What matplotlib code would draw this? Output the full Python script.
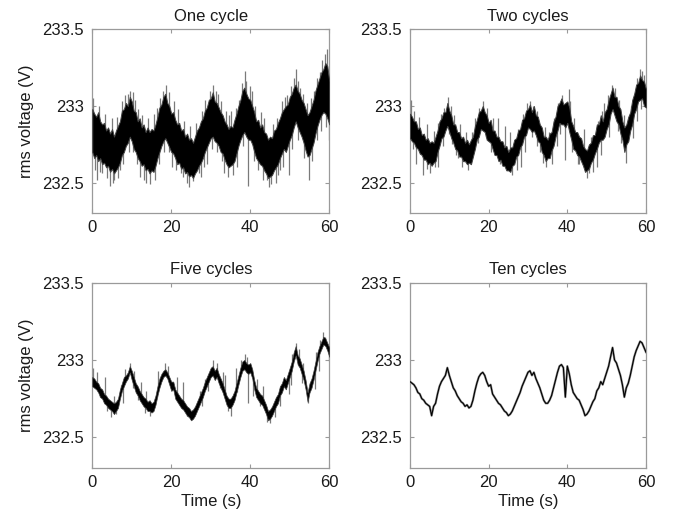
import numpy as np
import matplotlib
matplotlib.use("Agg")
import matplotlib.pyplot as plt

plt.rcParams['font.family'] = ['Liberation Sans', 'DejaVu Sans']

# ---------------- data ----------------
titles = ["One cycle", "Two cycles", "Five cycles", "Ten cycles"]
x_ticks = [0, 20, 40, 60]
y_ticks = [232.5, 233.0, 233.5]
y_tick_labels = ["232.5", "233", "233.5"]
y_label = "rms voltage (V)"
x_label = "Time (s)"

time_s = np.arange(0, 60.01, 0.5)

one_hi = [232.98, 232.95, 232.93, 232.96, 232.90, 232.88, 232.89, 232.84, 232.86, 232.82,
          232.85, 232.80, 232.84, 232.87, 232.90, 232.97, 232.98, 233.02, 233.00, 233.06,
          233.03, 232.97, 232.96, 232.90, 232.92, 232.86, 232.88, 232.83, 232.86, 232.83,
          232.85, 232.84, 232.88, 232.93, 232.99, 233.01, 233.06, 233.08, 233.02, 233.00,
          232.95, 232.96, 232.91, 232.88, 232.89, 232.84, 232.85, 232.80, 232.82, 232.78,
          232.79, 232.76, 232.80, 232.84, 232.86, 232.90, 232.92, 232.97, 232.99, 233.04,
          233.05, 233.09, 233.03, 233.02, 232.99, 232.96, 232.94, 232.90, 232.88, 232.85,
          232.87, 232.86, 232.91, 232.95, 233.00, 233.04, 233.10, 233.12, 233.08, 233.05,
          233.04, 233.00, 232.96, 232.90, 232.91, 232.86, 232.88, 232.83, 232.82, 232.78,
          232.80, 232.79, 232.84, 232.85, 232.89, 232.92, 232.96, 232.98, 233.00, 233.01,
          233.06, 233.08, 233.12, 233.14, 233.10, 233.08, 233.04, 233.02, 232.98, 232.94,
          232.96, 233.00, 233.04, 233.10, 233.14, 233.18, 233.22, 233.24, 233.28, 233.26,
          233.16]
one_lo = [232.70, 232.66, 232.68, 232.64, 232.66, 232.62, 232.63, 232.60, 232.61, 232.57,
          232.59, 232.56, 232.58, 232.60, 232.63, 232.68, 232.70, 232.74, 232.76, 232.80,
          232.77, 232.72, 232.70, 232.66, 232.64, 232.61, 232.62, 232.58, 232.59, 232.56,
          232.58, 232.57, 232.61, 232.66, 232.70, 232.74, 232.77, 232.79, 232.76, 232.73,
          232.70, 232.69, 232.66, 232.62, 232.63, 232.59, 232.60, 232.56, 232.57, 232.54,
          232.55, 232.53, 232.56, 232.58, 232.61, 232.63, 232.66, 232.70, 232.73, 232.76,
          232.79, 232.80, 232.77, 232.76, 232.74, 232.70, 232.69, 232.65, 232.62, 232.60,
          232.61, 232.62, 232.64, 232.69, 232.74, 232.78, 232.81, 232.83, 232.80, 232.78,
          232.78, 232.75, 232.70, 232.66, 232.64, 232.62, 232.61, 232.58, 232.56, 232.53,
          232.54, 232.55, 232.58, 232.60, 232.62, 232.66, 232.69, 232.72, 232.70, 232.74,
          232.78, 232.81, 232.86, 232.90, 232.86, 232.83, 232.80, 232.76, 232.71, 232.67,
          232.68, 232.72, 232.76, 232.82, 232.87, 232.91, 232.94, 232.96, 232.95, 232.92,
          232.88]
one_spike_t = [0.3, 1.2, 2.5, 4.4, 5.6, 7.0, 8.4, 9.6, 10.8, 12.2, 13.1, 15.5, 17.8, 18.6,
               20.2, 22.5, 24.0, 25.6, 26.9, 29.0, 30.6, 31.8, 33.3, 35.0, 37.2, 38.6, 39.4,
               40.5, 42.0, 44.2, 45.3, 47.0, 48.8, 49.8, 51.5, 52.6, 54.8, 56.2, 57.6, 59.5,
               59.9,
               1.7, 3.2, 4.9, 6.3, 7.6, 9.0, 10.2, 11.6, 12.7, 14.2, 16.3, 17.2, 19.3, 20.8,
               21.7, 23.3, 24.7, 26.3, 27.7, 28.6, 29.7, 31.2, 32.6, 33.8, 34.7, 36.3, 37.8,
               39.0, 40.0, 41.3, 42.7, 43.6, 45.8, 46.8, 48.1, 49.3, 50.3, 51.0, 52.2, 53.4,
               54.3, 55.3, 56.8, 58.2, 58.9,
               0.8, 2.0, 3.7, 5.2, 6.6, 7.7, 9.2, 10.3, 11.2, 13.7, 14.5, 15.8, 16.8, 18.2,
               19.5, 21.3, 23.0, 24.6, 27.6, 28.3, 30.2, 31.5, 32.8, 34.3, 35.6, 36.7, 38.2,
               40.9, 43.3, 44.7, 46.4, 47.6, 48.4, 50.6, 52.0, 53.7, 55.6, 57.0, 58.0, 59.2]
one_spike_v = [233.05, 232.52, 232.56, 232.48, 232.52, 232.58, 233.07, 233.10, 233.04, 232.54,
               232.52, 232.95, 233.10, 233.14, 232.60, 232.56, 232.50, 232.51, 232.56, 232.62,
               233.14, 233.08, 232.56, 232.97, 233.04, 233.23, 232.48, 233.10, 232.58, 232.52,
               232.49, 232.55, 233.06, 232.55, 233.24, 233.12, 232.52, 233.10, 233.22, 233.37,
               232.78,
               233.00, 232.95, 232.92, 232.93, 233.03, 233.08, 233.09, 232.98, 232.94, 232.92,
               232.99, 233.05, 233.09, 233.03, 232.98, 232.90, 232.87, 232.89, 232.97, 233.04,
               233.10, 233.10, 233.03, 232.97, 232.94, 232.99, 233.15, 233.16, 233.13, 233.00,
               232.96, 232.92, 232.88, 232.92, 233.03, 233.07, 233.13, 233.18, 233.16, 233.08,
               233.02, 233.05, 233.18, 233.30, 233.34,
               232.58, 232.57, 232.53, 232.50, 232.53, 232.62, 232.70, 232.70, 232.62, 232.50,
               232.49, 232.52, 232.62, 232.70, 232.70, 232.58, 232.54, 232.47, 232.54, 232.60,
               232.72, 232.70, 232.64, 232.54, 232.55, 232.60, 232.74, 232.64, 232.52, 232.47,
               232.50, 232.58, 232.60, 232.72, 232.78, 232.66, 232.64, 232.78, 232.84, 232.86]

two_hi = [232.95, 232.93, 232.90, 232.90, 232.85, 232.86, 232.81, 232.82, 232.78, 232.79,
          232.76, 232.77, 232.76, 232.80, 232.84, 232.90, 232.92, 232.96, 232.96, 233.02,
          232.97, 232.94, 232.88, 232.88, 232.83, 232.83, 232.79, 232.80, 232.76, 232.78,
          232.75, 232.78, 232.80, 232.87, 232.91, 232.96, 232.97, 233.00, 232.96, 232.94,
          232.89, 232.91, 232.84, 232.84, 232.80, 232.80, 232.77, 232.77, 232.73, 232.74,
          232.70, 232.73, 232.73, 232.78, 232.79, 232.84, 232.85, 232.91, 232.92, 232.97,
          232.98, 233.01, 232.96, 233.00, 232.94, 232.93, 232.88, 232.86, 232.80, 232.80,
          232.78, 232.82, 232.83, 232.90, 232.93, 233.00, 233.02, 233.05, 233.01, 233.02,
          233.03, 232.99, 232.90, 232.87, 232.83, 232.83, 232.80, 232.79, 232.74, 232.72,
          232.71, 232.75, 232.76, 232.81, 232.81, 232.88, 232.88, 232.94, 232.90, 232.96,
          232.98, 233.04, 233.08, 233.12, 233.06, 233.06, 233.00, 232.98, 232.90, 232.86,
          232.88, 232.93, 232.96, 233.04, 233.08, 233.14, 233.15, 233.20, 233.17, 233.16,
          233.11]
two_lo = [232.79, 232.77, 232.76, 232.73, 232.72, 232.69, 232.68, 232.65, 232.65, 232.62,
          232.63, 232.61, 232.63, 232.64, 232.70, 232.74, 232.79, 232.80, 232.84, 232.87,
          232.83, 232.79, 232.76, 232.72, 232.71, 232.67, 232.67, 232.64, 232.64, 232.62,
          232.63, 232.62, 232.67, 232.72, 232.78, 232.80, 232.85, 232.84, 232.83, 232.78,
          232.77, 232.76, 232.72, 232.68, 232.68, 232.64, 232.65, 232.61, 232.61, 232.58,
          232.58, 232.57, 232.61, 232.62, 232.67, 232.68, 232.73, 232.75, 232.80, 232.81,
          232.86, 232.85, 232.83, 232.84, 232.81, 232.77, 232.76, 232.70, 232.68, 232.64,
          232.66, 232.66, 232.71, 232.74, 232.80, 232.84, 232.89, 232.88, 232.88, 232.86,
          232.89, 232.83, 232.78, 232.72, 232.71, 232.68, 232.67, 232.64, 232.61, 232.57,
          232.58, 232.59, 232.63, 232.65, 232.69, 232.72, 232.76, 232.78, 232.78, 232.80,
          232.85, 232.88, 232.95, 232.98, 232.94, 232.90, 232.88, 232.82, 232.78, 232.70,
          232.75, 232.77, 232.84, 232.88, 232.95, 232.98, 233.03, 233.04, 233.05, 233.00,
          232.99]
two_spike_t = [0.2, 1.5, 3.4, 5.0, 6.3, 8.0, 9.6, 11.8, 13.2, 14.8, 18.6, 20.5, 22.8, 26.0,
               27.2, 30.6, 33.0, 36.0, 38.6, 39.3, 40.3, 43.0, 45.5, 46.5, 49.2, 52.0, 55.0,
               57.2, 59.0, 60.0,
               1.0, 2.3, 4.3, 6.0, 7.2, 8.7, 10.3, 11.3, 12.6, 14.2, 15.7, 16.6, 17.6, 19.7,
               21.2, 22.3, 24.2, 25.3, 27.5, 28.7, 29.8, 31.3, 32.3, 34.3, 35.3, 36.7, 37.6,
               40.8, 41.8, 44.2, 46.1, 47.7, 48.7, 50.3, 51.3, 53.2, 54.3, 56.2, 57.8, 58.6,
               59.5,
               0.7, 2.6, 4.2, 7.1, 8.4, 9.8, 10.8, 12.2, 16.1, 17.3, 19.4, 21.6, 23.5, 24.6,
               25.3, 28.2, 29.3, 31.0, 32.2, 33.8, 34.7, 37.3, 38.2, 41.3, 42.7, 44.2, 45.0,
               47.6, 48.5, 50.7, 52.8, 53.6, 56.6, 57.7, 58.8]
two_spike_v = [233.04, 232.62, 232.55, 232.56, 232.60, 232.95, 233.06, 232.68, 232.60, 232.58,
               233.03, 232.70, 232.62, 232.55, 232.58, 233.03, 232.70, 232.62, 233.07, 232.65,
               233.11, 232.62, 232.56, 232.57, 233.02, 233.12, 232.63, 233.08, 233.23, 233.00,
               232.97, 232.93, 232.88, 232.84, 232.89, 232.99, 233.00, 232.94, 232.88, 232.83,
               232.83, 232.92, 232.99, 232.99, 232.92, 232.92, 232.87, 232.83, 232.85, 232.95,
               233.02, 233.00, 232.97, 232.86, 232.83, 232.92, 233.02, 233.03, 232.92, 232.85,
               232.80, 232.90, 232.97, 233.07, 233.14, 233.04, 232.94, 233.00, 233.18, 233.24,
               233.20,
               232.72, 232.69, 232.59, 232.60, 232.74, 232.82, 232.75, 232.66, 232.73, 232.76,
               232.80, 232.70, 232.64, 232.62, 232.60, 232.60, 232.70, 232.80, 232.74, 232.63,
               232.60, 232.74, 232.82, 232.70, 232.62, 232.60, 232.53, 232.60, 232.68, 232.80,
               232.84, 232.76, 232.79, 232.90, 232.98]

five_hi = [232.89, 232.88, 232.86, 232.85, 232.82, 232.81, 232.78, 232.77, 232.75, 232.74,
           232.73, 232.72, 232.73, 232.75, 232.81, 232.85, 232.89, 232.90, 232.92, 232.96,
           232.93, 232.89, 232.85, 232.83, 232.80, 232.78, 232.76, 232.75, 232.73, 232.74,
           232.72, 232.73, 232.77, 232.83, 232.88, 232.91, 232.93, 232.94, 232.92, 232.89,
           232.86, 232.86, 232.81, 232.79, 232.77, 232.75, 232.74, 232.72, 232.70, 232.69,
           232.67, 232.68, 232.70, 232.73, 232.76, 232.79, 232.82, 232.86, 232.89, 232.92,
           232.95, 232.96, 232.93, 232.95, 232.91, 232.88, 232.85, 232.81, 232.77, 232.75,
           232.75, 232.77, 232.80, 232.85, 232.90, 232.95, 232.99, 233.00, 232.98, 232.97,
           232.98, 232.94, 232.87, 232.82, 232.80, 232.78, 232.77, 232.74, 232.71, 232.67,
           232.68, 232.70, 232.73, 232.76, 232.78, 232.83, 232.85, 232.89, 232.87, 232.91,
           232.95, 232.99, 233.05, 233.09, 233.03, 233.01, 232.97, 232.93, 232.87, 232.79,
           232.85, 232.88, 232.93, 232.99, 233.05, 233.09, 233.12, 233.15, 233.14, 233.11,
           233.08]
five_lo = [232.83, 232.82, 232.81, 232.79, 232.76, 232.75, 232.72, 232.71, 232.69, 232.68,
           232.67, 232.65, 232.67, 232.69, 232.75, 232.80, 232.83, 232.86, 232.88, 232.92,
           232.87, 232.83, 232.79, 232.77, 232.74, 232.72, 232.70, 232.69, 232.67, 232.67,
           232.66, 232.67, 232.71, 232.77, 232.82, 232.86, 232.89, 232.90, 232.88, 232.84,
           232.80, 232.81, 232.75, 232.73, 232.71, 232.69, 232.68, 232.66, 232.64, 232.63,
           232.61, 232.62, 232.64, 232.67, 232.70, 232.73, 232.76, 232.80, 232.83, 232.86,
           232.89, 232.90, 232.87, 232.89, 232.85, 232.82, 232.79, 232.75, 232.71, 232.69,
           232.69, 232.71, 232.74, 232.79, 232.84, 232.89, 232.93, 232.94, 232.92, 232.91,
           232.92, 232.88, 232.81, 232.76, 232.74, 232.72, 232.71, 232.68, 232.65, 232.61,
           232.62, 232.64, 232.67, 232.70, 232.72, 232.77, 232.79, 232.83, 232.81, 232.85,
           232.89, 232.93, 232.99, 233.03, 232.97, 232.95, 232.91, 232.87, 232.81, 232.73,
           232.79, 232.82, 232.87, 232.93, 232.99, 233.04, 233.07, 233.10, 233.09, 233.06,
           233.02]
five_spike_t = [0.3, 4.8, 6.0, 9.6, 14.6, 19.2, 25.5, 30.5, 33.5, 35.2, 39.2, 39.5, 45.0,
                46.2, 49.8, 51.5, 54.6, 59.0,
                1.3, 3.1, 5.5, 7.3, 8.4, 10.6, 12.3, 13.6, 16.7, 18.4, 21.4, 23.0, 27.3,
                28.6, 31.6, 33.0, 36.4, 37.7, 38.6, 41.6, 43.3, 47.4, 48.6, 50.6, 52.3, 53.4,
                56.6, 57.6, 58.4,
                1.9, 3.7, 7.7, 10.4, 11.6, 13.3, 16.3, 20.6, 22.4, 24.0, 27.7, 29.4, 32.4,
                34.3, 36.6, 40.8, 42.4, 44.3, 47.6, 50.2, 53.0, 56.3, 57.5, 60.0]
five_spike_v = [232.95, 232.63, 232.65, 232.98, 232.64, 232.96, 232.63, 233.00, 232.90, 232.64,
                233.02, 232.72, 232.59, 232.63, 232.78, 233.11, 232.72, 233.15,
                232.92, 232.89, 232.77, 232.84, 232.94, 232.93, 232.86, 232.80, 232.93, 232.98,
                232.89, 232.86, 232.80, 232.88, 232.98, 232.92, 232.95, 233.00, 233.04, 232.88,
                232.83, 232.80, 232.86, 233.04, 233.07, 232.98, 233.05, 233.13, 233.18,
                232.76, 232.67, 232.72, 232.82, 232.74, 232.66, 232.76, 232.80, 232.74, 232.64,
                232.70, 232.80, 232.82, 232.67, 232.79, 232.77, 232.70, 232.60, 232.70, 232.84,
                232.85, 232.81, 232.93, 232.99]

ten_line = [232.86, 232.85, 232.84, 232.82, 232.79, 232.78, 232.75, 232.74, 232.72, 232.71,
            232.70, 232.64, 232.70, 232.72, 232.78, 232.83, 232.86, 232.88, 232.90, 232.95,
            232.90, 232.86, 232.82, 232.80, 232.77, 232.75, 232.73, 232.72, 232.70, 232.71,
            232.69, 232.70, 232.74, 232.80, 232.85, 232.89, 232.91, 232.92, 232.90, 232.86,
            232.83, 232.84, 232.78, 232.76, 232.74, 232.72, 232.71, 232.69, 232.67, 232.66,
            232.64, 232.65, 232.67, 232.70, 232.73, 232.76, 232.79, 232.83, 232.86, 232.89,
            232.92, 232.93, 232.90, 232.92, 232.88, 232.85, 232.82, 232.78, 232.74, 232.72,
            232.72, 232.74, 232.77, 232.82, 232.87, 232.92, 232.96, 232.97, 232.95, 232.76,
            232.96, 232.91, 232.84, 232.79, 232.77, 232.75, 232.74, 232.71, 232.68, 232.64,
            232.65, 232.67, 232.70, 232.73, 232.75, 232.80, 232.82, 232.86, 232.84, 232.88,
            232.92, 232.96, 233.02, 233.08, 233.00, 232.98, 232.94, 232.90, 232.84, 232.76,
            232.82, 232.85, 232.90, 232.96, 233.02, 233.06, 233.09, 233.12, 233.11, 233.08,
            233.05]

# ---------------- figure ----------------
fig = plt.figure(figsize=(6.76, 5.18), dpi=100)
positions = [
    [0.1365, 0.5882, 0.3506, 0.3552],
    [0.6065, 0.5882, 0.3491, 0.3552],
    [0.1365, 0.0959, 0.3506, 0.3587],
    [0.6065, 0.0959, 0.3491, 0.3587],
]
axes = [fig.add_axes(p) for p in positions]

frame_col = "#9a9a9a"
text_col = "#1a1a1a"


def band(ax, hi, lo, st, sv, edge_lw=0.7):
    hi = np.asarray(hi)
    lo = np.asarray(lo)
    mid = np.interp(st, time_s, (hi + lo) / 2)
    ax.vlines(st, sv, mid, color="#7a7a7a", lw=0.9, zorder=2)
    ax.fill_between(time_s, lo, hi, facecolor="black", edgecolor="#444444",
                    lw=edge_lw, zorder=3)


band(axes[0], one_hi, one_lo, one_spike_t, one_spike_v)
band(axes[1], two_hi, two_lo, two_spike_t, two_spike_v)
band(axes[2], five_hi, five_lo, five_spike_t, five_spike_v, edge_lw=0.5)
axes[3].plot(time_s, ten_line, color="#8c8c8c", lw=1.6, zorder=2)
axes[3].plot(time_s, ten_line, color="black", lw=0.8, zorder=3)

for i, ax in enumerate(axes):
    ax.set_xlim(0, 60)
    ax.set_ylim(232.3, 233.5)
    ax.set_xticks(x_ticks)
    ax.set_yticks(y_ticks)
    ax.set_yticklabels(y_tick_labels)
    ax.tick_params(direction="in", length=3, width=0.8, color=frame_col,
                   top=True, right=True, labelsize=12, labelcolor=text_col)
    ax.tick_params(axis="x", pad=5)
    ax.tick_params(axis="y", pad=6)
    for s in ax.spines.values():
        s.set_color(frame_col)
        s.set_linewidth(0.9)
    ax.set_title(titles[i], fontsize=12, color=text_col, pad=6)
    if i % 2 == 0:
        ax.set_ylabel(y_label, fontsize=12, color=text_col, labelpad=6)
    if i >= 2:
        ax.set_xlabel(x_label, fontsize=12, color=text_col, labelpad=3)

fig.savefig("out.png", dpi=100)
